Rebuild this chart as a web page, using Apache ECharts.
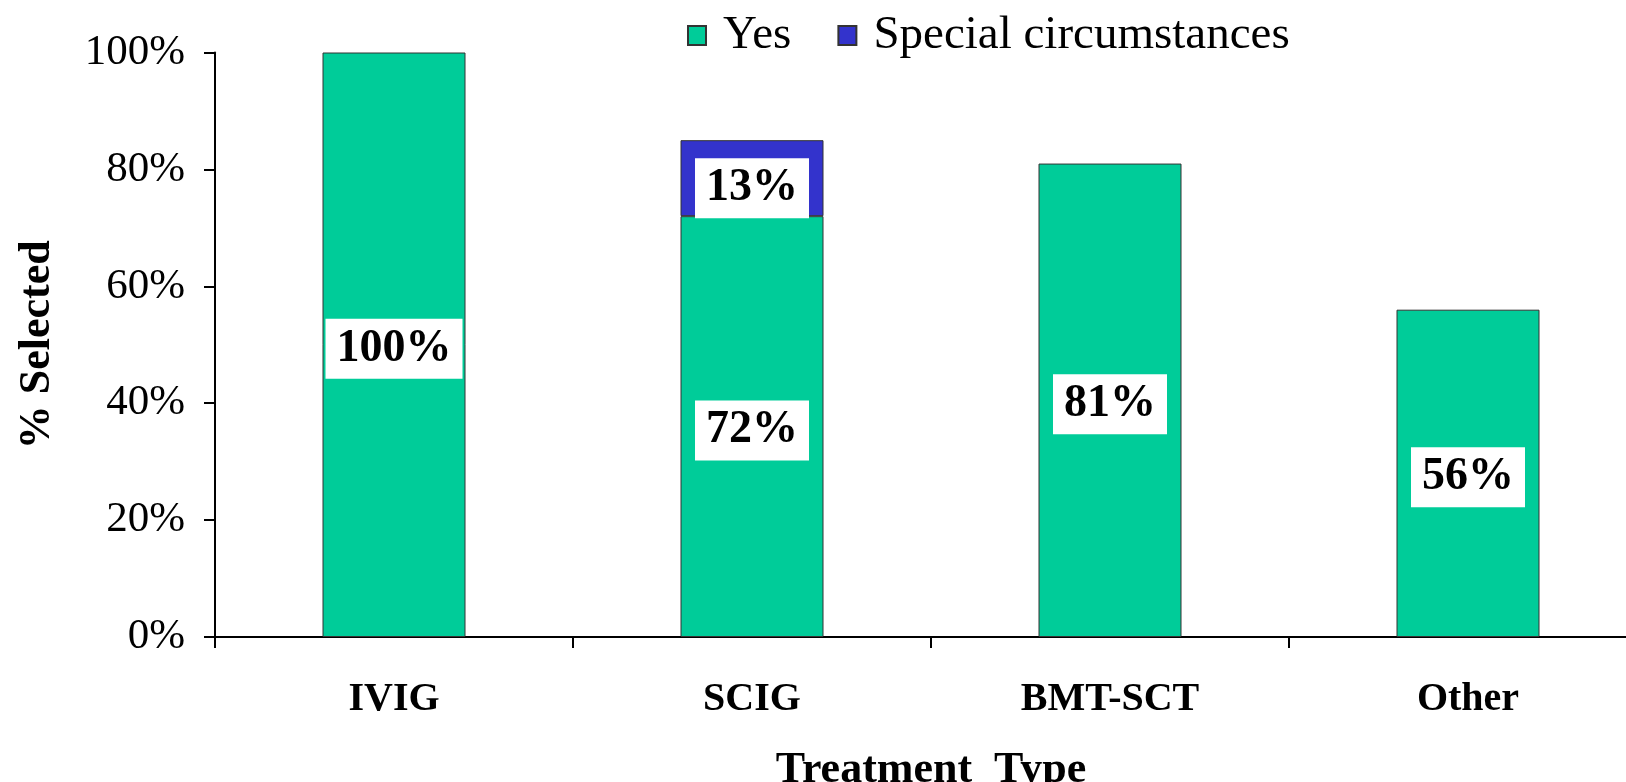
<!DOCTYPE html>
<html>
<head>
<meta charset="utf-8">
<style>
  html, body { margin: 0; padding: 0; background: #ffffff; }
  #chart { width: 1626px; height: 782px; }
</style>
<script src="https://cdn.jsdelivr.net/npm/echarts@6/dist/echarts.min.js"></script>
</head>
<body>
<div id="chart"></div>
<script>
// Share of respondents selecting each treatment type
const categories = ['IVIG', 'SCIG', 'BMT-SCT', 'Other'];
const yesValues = [100, 72, 81, 56];
const specialValues = ['-', 13, '-', '-'];
const yTicks = [0, 20, 40, 60, 80, 100];

const serif = 'Liberation Serif, Times New Roman, serif';

const valueLabel = {
  show: true,
  position: 'inside',
  formatter: '{c}%',
  fontFamily: serif,
  fontWeight: 'bold',
  fontSize: 46,
  color: '#000',
  backgroundColor: '#ffffff',
  padding: [9, 11, 5, 11],
  offset: [0, 4]
};

const chart = echarts.init(document.getElementById('chart'), null, { renderer: 'canvas' });
chart.setOption({
  animation: false,
  backgroundColor: '#ffffff',
  legend: {
    left: 682,
    top: 7,
    icon: 'rect',
    itemWidth: 18,
    itemHeight: 19,
    itemGap: 46,
    textStyle: { fontFamily: serif, fontSize: 47, color: '#000', padding: [0, 0, 0, 12] },
    data: ['Yes', 'Special circumstances']
  },
  grid: {
    left: 215, top: 52.5, width: 1432, height: 584.5,
    containLabel: false,
    outerBoundsMode: 'none'
  },
  xAxis: {
    type: 'category',
    data: categories,
    boundaryGap: true,
    name: 'Treatment  Type',
    nameLocation: 'middle',
    nameGap: 112,
    nameTextStyle: { fontFamily: serif, fontWeight: 'bold', fontSize: 44, color: '#000' },
    axisLine: { lineStyle: { color: '#000', width: 2 } },
    axisTick: { show: true, length: 11, lineStyle: { color: '#000', width: 2 } },
    axisLabel: { fontFamily: serif, fontWeight: 'bold', fontSize: 40, color: '#000', margin: 43 }
  },
  yAxis: {
    type: 'value',
    min: yTicks[0],
    max: yTicks[yTicks.length - 1],
    interval: 20,
    name: '% Selected',
    nameLocation: 'middle',
    nameRotate: 90,
    nameGap: 155,
    nameTextStyle: { fontFamily: serif, fontWeight: 'bold', fontSize: 44, color: '#000' },
    axisLine: { show: true, lineStyle: { color: '#000', width: 2 } },
    axisTick: { show: true, length: 11, lineStyle: { color: '#000', width: 2 } },
    splitLine: { show: false },
    axisLabel: { formatter: '{value}%', fontFamily: serif, fontSize: 43, color: '#000', margin: 30 }
  },
  series: [
    {
      name: 'Yes',
      type: 'bar',
      stack: 'total',
      barWidth: 143,
      data: yesValues,
      itemStyle: { color: '#00CC99', borderColor: '#333333', borderWidth: 1 },
      label: valueLabel
    },
    {
      name: 'Special circumstances',
      type: 'bar',
      stack: 'total',
      barWidth: 143,
      data: specialValues,
      itemStyle: { color: '#3333CC', borderColor: '#333333', borderWidth: 1 },
      label: Object.assign({}, valueLabel, { offset: [0, 10] })
    }
  ]
});
</script>
</body>
</html>
